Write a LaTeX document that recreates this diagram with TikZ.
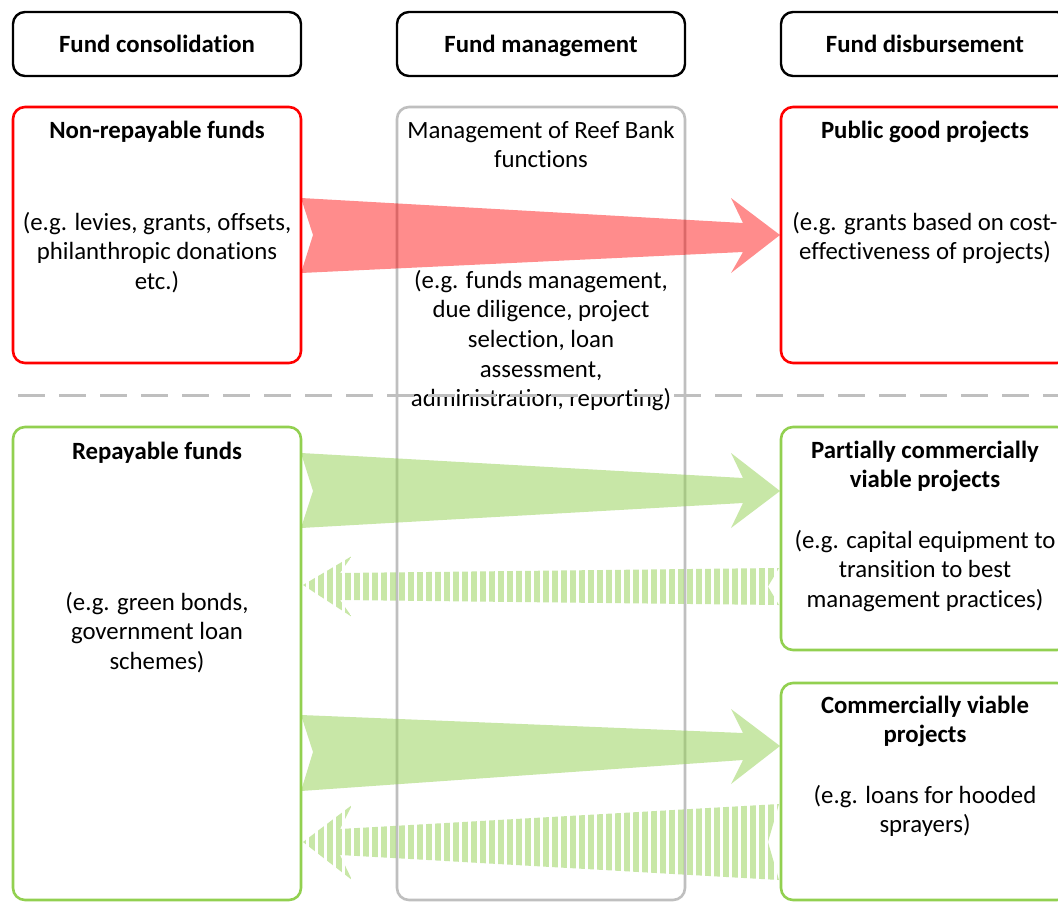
\documentclass[tikz,border=0pt]{standalone}
\usepackage{fontspec}
\setmainfont{Carlito}[Ligatures=CommonOff]
\definecolor{redb}{HTML}{FF0000}
\definecolor{greenb}{HTML}{92D050}
\definecolor{greyb}{HTML}{BFBFBF}
\newcommand{\mlines}[1]{\begin{tabular}[t]{@{}c@{}}#1\end{tabular}}
\begin{document}
\begin{tikzpicture}[x=1pt,y=-1pt,
  box/.style={draw, rounded corners=12pt, line width=2.6pt, outer sep=0pt, inner sep=0pt, anchor=north west, minimum width=288pt},
  hdr/.style={box, draw=black, line width=2.4pt, minimum height=64pt},
  redbox/.style={box, draw=redb},
  greenbox/.style={box, draw=greenb},
  greybox/.style={box, draw=greyb},
  txt/.style={anchor=base, inner sep=0pt, font=\fontsize{24.8}{29.7}\selectfont},
  btxt/.style={anchor=base, inner sep=0pt, font=\fontsize{24.8}{29.7}\selectfont\bfseries},
  redarrow/.style={fill=redb, fill opacity=0.45},
  greenarrow/.style={fill=greenb, fill opacity=0.5},
]
\clip (0,0) rectangle (1058,902);
\fill[white] (0,0) rectangle (1058,902);

% header boxes
\node[hdr] (h1) at (13,12) {};
\node[hdr] (h2) at (397,12) {};
\node[hdr] (h3) at (781,12) {};

% content boxes
\node[redbox, minimum height=256pt] (nrf) at (13,107) {};
\node[greybox, minimum height=793pt] (mgmt) at (397,107) {};
\node[redbox, minimum height=256pt] (pgp) at (781,107) {};
\node[greenbox, minimum height=473pt] (rf) at (13,427) {};
\node[greenbox, minimum height=223pt] (pcv) at (781,427) {};
\node[greenbox, minimum height=217pt] (cv) at (781,683) {};

% solid forward arrows
\fill[redarrow] (301,198) -- (313,235) -- (301,273) -- (743,252) -- (731,273) -- (780,235) -- (731,198) -- (743,223) -- cycle;
\fill[greenarrow] (301,453) -- (313,491) -- (301,528) -- (743,503) -- (731,528) -- (780,491) -- (731,453) -- (743,478) -- cycle;
\fill[greenarrow] (301,715) -- (313,752) -- (301,791) -- (743,760) -- (731,784) -- (780,746) -- (731,709) -- (743,733) -- cycle;

% striped return arrows
\begin{scope}
\clip (779,568) -- (340,573) -- (352,556) -- (303,585) -- (352,617) -- (340,600) -- (779,605) -- (768,586.5) -- cycle;
\foreach \i in {0,...,54} \fill[greenb, fill opacity=0.5] (300+9*\i,550) rectangle (305.5+9*\i,625);
\end{scope}
\begin{scope}
\clip (779,804) -- (340,829) -- (352,805) -- (303,842) -- (352,880) -- (340,855) -- (779,880) -- (768,842) -- cycle;
\foreach \i in {0,...,54} \fill[greenb, fill opacity=0.5] (300+9*\i,795) rectangle (305.5+9*\i,890);
\end{scope}

% header texts
\node[btxt] (t1) at (157,52) {Fund consolidation};
\node[btxt] (t2) at (541,52) {Fund management};
\node[btxt] (t3) at (925,52) {Fund disbursement};

% left column
\node[btxt] (nrft) at (157,138) {Non-repayable funds};
\node[txt] (nrfe) at (157,230) {\mlines{(e.g. levies, grants, offsets,\\philanthropic donations\\etc.)}};
\node[btxt] (rft) at (157,459) {Repayable funds};
\node[txt] (rfe) at (157,610) {\mlines{(e.g. green bonds,\\government loan\\schemes)}};

% middle column
\node[txt] (mt) at (541,138) {\mlines{Management of Reef Bank\\functions}};
\node[txt] (me) at (541,288) {\mlines{(e.g. funds management,\\due diligence, project\\selection, loan\\assessment,\\administration, reporting)}};

% right column
\node[btxt] (pgpt) at (925,138) {Public good projects};
\node[txt] (pgpe) at (925,230) {\mlines{(e.g. grants based on cost-\\effectiveness of projects)}};
\node[btxt] (pcvt) at (925,458) {\mlines{Partially commercially\\viable projects}};
\node[txt] (pcve) at (925,548) {\mlines{(e.g. capital equipment to\\transition to best\\management practices)}};
\node[btxt] (cvt) at (925,713) {\mlines{Commercially viable\\projects}};
\node[txt] (cve) at (925,803) {\mlines{(e.g. loans for hooded\\sprayers)}};

% dashed separator
\coordinate (dl1) at (18,395);
\coordinate (dl2) at (1058,395);
\draw[greyb, line width=3pt, dash pattern=on 27pt off 14pt] (dl1) -- (dl2);
\end{tikzpicture}
\end{document}
